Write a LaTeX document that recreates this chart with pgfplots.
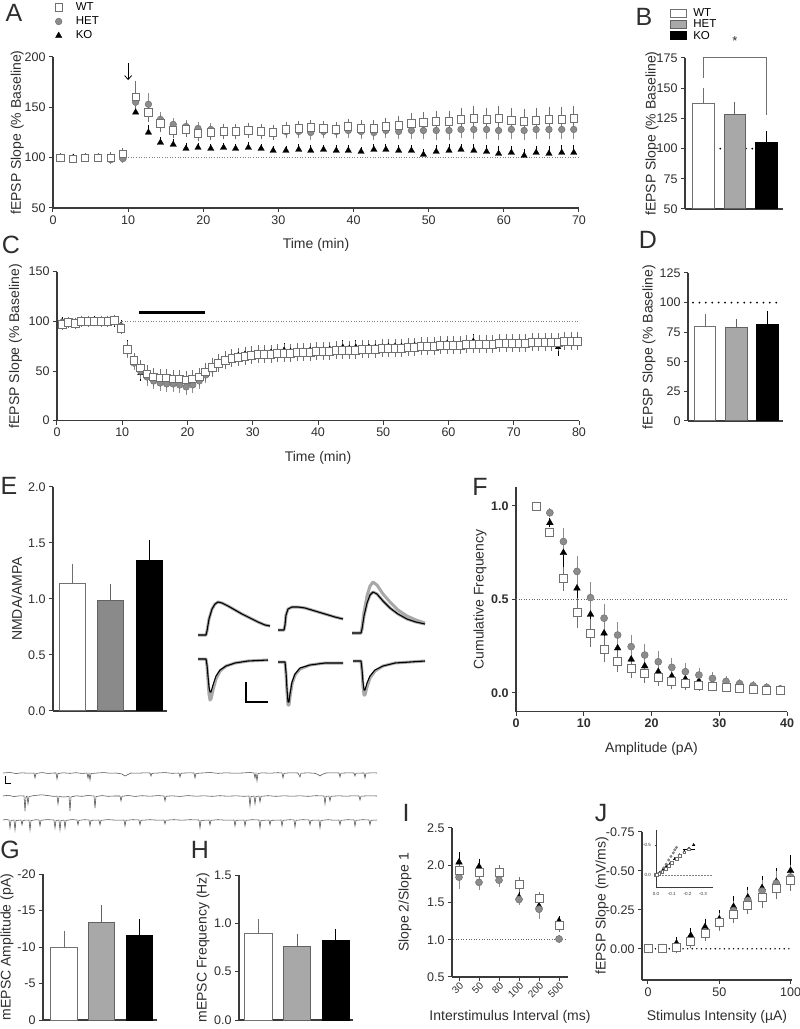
\documentclass[border=0pt]{standalone}
\usepackage{fontspec}
\setmainfont{Liberation Sans}
\usepackage{pgfplots}
\usepackage{pgfplotstable}
\pgfplotsset{compat=1.18}
\usetikzlibrary{arrows.meta}

\definecolor{axc}{HTML}{3A3A3A}
\definecolor{txt}{HTML}{2E2E2E}
\definecolor{wtc}{HTML}{707070}
\definecolor{hetc}{HTML}{8C8C8C}
\definecolor{hetfill}{HTML}{A8A8A8}
\definecolor{hetfillE}{HTML}{8A8A8A}
\definecolor{trgray}{HTML}{A8A8A8}

\newcommand{\tkf}{\fontsize{12.5}{14}\selectfont}
\newcommand{\lbf}{\fontsize{14}{16}\selectfont}
\newcommand{\lgf}{\fontsize{11.5}{12.5}\selectfont}
\newcommand{\ltf}{\fontsize{25}{27}\selectfont}

% A: LTP time course (time, mean, sem per genotype)
\pgfplotstableread{
t wt wte het hete ko koe
1.0 100 2 100 1 100 1
2.7 99 2 99 1 100 1
4.3 100 2 100 1 100 1
6.0 100 2 100 1 100 1
7.7 100 3 98 2 100 1
9.3 104 3 99 2 100 1
11.0 160 13 155 8 145 10
12.7 145 7 153 8 125 5
14.3 134 6 138 5 115 3
16.0 127 5 133 4 113 3
17.7 128 5 131 4 109 3
19.3 124 5 129 4 110 2
21.0 125 5 128 4 109 2
22.7 126 5 127 4 110 2
24.3 126 5 127 4 109 2
26.0 127 5 127 4 110 3
27.7 126 5 126 4 109 2
29.3 125 5 125 4 107 2
31.0 128 5 126 4 107 2
32.7 129 5 126 4 108 3
34.3 130 5 125 5 107 3
36.0 129 5 126 4 108 2
37.7 128 5 126 4 107 3
39.3 131 5 127 5 107 3
41.0 129 6 126 5 106 2
42.7 129 6 125 5 108 3
44.3 131 6 127 5 108 3
46.0 132 7 126 5 107 3
47.7 134 8 127 6 107 3
49.3 135 8 127 6 103 3
51.0 136 8 127 7 106 4
52.7 136 8 127 7 107 4
54.3 138 9 128 6 108 3
56.0 139 10 128 7 107 4
57.7 138 9 128 7 106 4
59.3 139 10 127 7 104 5
61.0 137 10 128 7 105 4
62.7 136 10 127 7 102 4
64.3 137 10 128 7 105 4
66.0 138 10 128 7 104 5
67.7 138 10 128 7 105 5
69.3 139 10 128 7 105 5
}\tabA

% C: LTD time course
\pgfplotstableread{
t wt wte het hete ko koe
0.8 97 3 99 2 100 2
1.8 99 3 98 2 99 2
2.8 98 3 99 2 99 2
3.8 100 3 101 2 100 2
4.8 100 3 100 2 100 2
5.8 100 2 100 2 101 2
6.8 100 3 99 2 100 2
7.8 100 3 101 2 100 2
8.8 101 3 100 2 99 2
9.8 93 3 95 3 96 3
10.8 72 5 71 5 73 5
11.8 61 4 58 4 59 4
12.8 53 5 50 5 48 5
13.8 47 6 44 6 44 5
14.8 44 6 40 5 42 5
15.8 43 6 38 5 41 5
16.8 43 6 37 5 42 5
17.8 42 6 37 5 41 5
18.8 42 6 36 5 40 5
19.8 41 6 34 5 40 5
20.8 42 6 36 5 40 5
21.8 44 6 40 5 41 5
22.8 49 6 46 5 46 5
23.8 54 6 52 5 53 5
24.8 58 6 57 5 59 5
25.8 61 6 60 5 62 4
26.8 63 6 63 5 64 4
27.8 64 6 64 5 66 4
28.8 65 6 65 5 67 4
29.8 66 6 66 5 67 4
30.8 67 6 67 5 68 4
31.8 67 6 67 5 68 4
32.8 67 6 67 5 69 4
33.8 68 6 67 5 69 4
34.8 68 6 68 5 71 4
35.8 68 6 68 5 70 4
36.8 69 6 68 5 70 4
37.8 69 6 69 5 70 4
38.8 69 6 69 5 71 4
39.8 70 6 69 5 71 4
40.8 70 6 70 5 71 4
41.8 70 6 70 5 72 4
42.8 71 6 70 5 72 4
43.8 71 6 71 5 74 4
44.8 71 6 71 5 73 4
45.8 71 6 71 5 74 4
46.8 72 6 71 5 73 4
47.8 72 6 72 5 74 4
48.8 72 6 72 5 74 4
49.8 73 6 72 5 74 4
50.8 73 6 72 5 75 4
51.8 73 6 73 5 75 4
52.8 73 6 73 5 75 4
53.8 74 6 73 5 75 4
54.8 74 6 73 5 76 4
55.8 75 6 74 5 76 4
56.8 75 6 74 5 76 4
57.8 75 6 74 5 76 4
58.8 76 6 75 5 77 4
59.8 76 6 75 5 78 4
60.8 76 6 75 5 77 4
61.8 76 6 75 5 77 4
62.8 77 6 76 5 78 4
63.8 77 6 76 5 80 4
64.8 77 6 76 5 78 4
65.8 77 6 76 5 78 4
66.8 77 6 77 5 78 4
67.8 78 6 77 5 79 4
68.8 78 6 77 5 79 4
69.8 78 6 77 5 79 4
70.8 78 6 78 5 79 4
71.8 78 6 78 5 79 4
72.8 79 6 78 5 80 4
73.8 79 6 78 5 80 4
74.8 79 6 78 5 80 4
75.8 79 6 78 5 80 4
76.8 79 6 79 5 74 6
77.8 80 6 79 5 80 4
78.8 80 6 79 5 81 4
79.8 80 6 79 5 81 4
}\tabC

% F: cumulative amplitude distribution
\pgfplotstableread{
a wt wte het hete ko koe
3 1.00 0 nan nan nan nan
5 0.86 0.01 0.964 0.01 0.91 0.01
7 0.61 0.05 0.81 0.055 0.75 0.06
9 0.43 0.065 0.65 0.07 0.56 0.07
11 0.32 0.06 0.51 0.07 0.42 0.07
13 0.235 0.055 0.40 0.06 0.32 0.055
15 0.17 0.045 0.31 0.055 0.24 0.05
17 0.133 0.04 0.248 0.048 0.18 0.04
19 0.105 0.035 0.203 0.045 0.144 0.035
21 0.085 0.03 0.167 0.04 0.114 0.03
23 0.06 0.025 0.137 0.035 0.09 0.025
25 0.052 0.02 0.114 0.03 0.075 0.02
27 0.043 0.015 0.096 0.025 0.064 0.018
29 0.036 0.012 0.078 0.02 0.052 0.015
31 0.03 0.01 0.062 0.015 0.044 0.012
33 0.025 0.008 0.05 0.012 0.036 0.01
35 0.02 0.006 0.039 0.01 0.03 0.008
37 0.016 0.005 0.03 0.008 0.024 0.006
39 0.012 0.004 0.022 0.006 0.018 0.005
}\tabF

% I: paired-pulse ratio (x = category index)
\pgfplotstableread{
x wt wte het hete ko koe
0 1.93 0.07 1.84 0.12 2.04 0.10
1 1.90 0.08 1.77 0.06 1.98 0.07
2 1.91 0.05 1.80 0.06 1.87 0.05
3 1.74 0.06 1.54 0.03 1.57 0.04
4 1.56 0.04 1.41 0.09 1.45 0.05
5 1.19 0.05 1.01 0.02 1.25 0.03
}\tabI

% J: input-output
\pgfplotstableread{
x wt wte het hete ko koe
0 0.00 0.01 0.00 0.01 0.00 0.01
10 0.00 0.01 0.00 0.01 -0.005 0.01
20 -0.01 0.02 -0.01 0.02 -0.035 0.02
30 -0.05 0.03 -0.05 0.03 -0.085 0.03
40 -0.10 0.03 -0.11 0.03 -0.14 0.035
50 -0.17 0.03 -0.17 0.04 -0.19 0.04
60 -0.22 0.04 -0.245 0.04 -0.27 0.05
70 -0.28 0.04 -0.31 0.05 -0.33 0.05
80 -0.33 0.05 -0.37 0.05 -0.39 0.06
90 -0.385 0.05 -0.42 0.06 -0.43 0.07
100 -0.44 0.05 -0.46 0.06 -0.50 0.08
}\tabJ

\pgfplotsset{
  gp/.style={
    scale only axis, anchor=south west,
    axis x line*=bottom, axis y line*=left,
    axis line style={line width=1.1pt, color=axc},
    every tick/.style={line width=1pt, color=axc},
    tick align=outside, major tick length=4pt,
    tick label style={font=\tkf, color=txt},
    label style={font=\lbf, color=txt},
    /pgf/number format/assume math mode=true,
  },
  mwt/.style={only marks, mark=square*, mark size=3.6pt,
    mark options={fill=white, draw=wtc, line width=0.9pt},
    error bars/y dir=both, error bars/y explicit,
    error bars/error bar style={wtc, line width=0.8pt},
    error bars/error mark options={wtc, line width=0.8pt, mark size=2.8pt}},
  mhet/.style={only marks, mark=*, mark size=3.3pt,
    mark options={fill=hetc, draw=hetc!80!black, line width=0.5pt},
    error bars/y dir=both, error bars/y explicit,
    error bars/error bar style={hetc, line width=0.8pt},
    error bars/error mark options={hetc, line width=0.8pt, mark size=2.8pt}},
  mko/.style={only marks, mark=triangle*, mark size=3.7pt,
    mark options={fill=black, draw=black, line width=0.3pt},
    error bars/y dir=both, error bars/y explicit,
    error bars/error bar style={black, line width=0.8pt},
    error bars/error mark options={black, line width=0.8pt, mark size=2.8pt}},
  bwt/.style={ybar, bar shift=0pt, fill=white, draw=wtc, line width=1pt,
    error bars/y dir=plus, error bars/y explicit,
    error bars/error bar style={wtc, line width=1pt},
    error bars/error mark options={wtc, line width=1pt, mark size=4pt}},
  bhet/.style={ybar, bar shift=0pt, fill=hetfill, draw=hetc!70!black, line width=1pt,
    error bars/y dir=plus, error bars/y explicit,
    error bars/error bar style={hetc!70!black, line width=1pt},
    error bars/error mark options={hetc!70!black, line width=1pt, mark size=4pt}},
  bko/.style={ybar, bar shift=0pt, fill=black, draw=black, line width=1pt,
    error bars/y dir=plus, error bars/y explicit,
    error bars/error bar style={black, line width=1pt},
    error bars/error mark options={black, line width=1pt, mark size=4pt}},
  finedot/.style={color=gray, line width=1pt, dash pattern=on 1pt off 1.6pt},
  bigdot/.style={color=black, line width=2pt, line cap=round, dash pattern=on 0pt off 6.4pt},
}

\begin{document}
\begin{tikzpicture}
\useasboundingbox (0pt,0pt) rectangle (800pt,1029pt);

% ---------- A ----------
\begin{axis}[gp, at={(53pt,821pt)}, width=526pt, height=151pt,
  xmin=0, xmax=70, ymin=50, ymax=200,
  xtick={0,10,...,70}, ytick={50,100,150,200},
  xlabel={Time (min)}, ylabel={fEPSP Slope (\% Baseline)},
  xlabel style={at={(axis description cs:0.5,-0.245)}, anchor=center},
  ylabel style={at={(axis description cs:-0.068,0.5)}, anchor=center},
  clip=false, reverse legend,
  legend image code/.code={\draw[#1] plot coordinates {(5.5pt,0pt)}; \path[draw=none, fill=none] (0pt,-4pt) rectangle (22pt,4pt);},
  legend style={draw=none, fill=none, inner sep=0pt, at={(axis description cs:0,1.365)}, anchor=north west,
    font=\lgf, row sep=3.5pt, nodes={inner sep=0.6pt}},
  legend cell align=left]
\addplot[finedot, forget plot] coordinates {(10,100) (70,100)};
\addplot[black, line width=0.8pt, -{Straight Barb[length=4pt, width=7pt]}, forget plot] coordinates {(10,194) (10,177)};
\addplot[mko, error bars/y dir=plus] table[x=t, y=ko, y error=koe] {\tabA};
\addlegendentry{KO}
\addplot[mhet] table[x=t, y=het, y error=hete] {\tabA};
\addlegendentry{HET}
\addplot[mwt] table[x=t, y=wt, y error=wte] {\tabA};
\addlegendentry{WT}
\end{axis}

% ---------- B ----------
\begin{axis}[gp, at={(685pt,820pt)}, width=98pt, height=151pt,
  xmin=0.413, xmax=3.524, ymin=50, ymax=175,
  xtick=\empty, ytick={50,75,...,175},
  ylabel={fEPSP Slope (\% Baseline)},
  ylabel style={at={(axis description cs:-0.337,0.5)}, anchor=center},
  legend image code/.code={\draw[#1] (0pt,-4pt) rectangle (16pt,4pt); \path[draw=none, fill=none] (0pt,-4pt) rectangle (22pt,4pt);},
  legend style={draw=none, fill=none, inner sep=0pt, at={(axis description cs:-0.153,1.33)}, anchor=north west,
    font=\lgf, row sep=0.5pt, nodes={inner sep=0.6pt}},
  legend cell align=left]
\addplot[bigdot, forget plot] coordinates {(1.33,100) (2.67,100)};
\addplot[bwt, bar width=0.667] coordinates {(1,137) +- (0,10)};
\addlegendentry{WT}
\addplot[bhet, bar width=0.667] coordinates {(2,128) +- (0,7)};
\addlegendentry{HET}
\addplot[bko, bar width=0.667] coordinates {(3,105) +- (0,6)};
\addlegendentry{KO}
\end{axis}
\begin{axis}[scale only axis, anchor=south west, at={(685pt,820pt)}, width=98pt, height=151pt,
  xmin=0.413, xmax=3.524, ymin=50, ymax=175, hide axis, clip=false]
\addplot[wtc, line width=1pt] coordinates {(1,158.4) (1,175) (3,175) (3,127.8)};
\node[font=\fontsize{13}{13}\selectfont, text=txt] at (axis cs:2,189) {*};
\end{axis}

% ---------- C ----------
\begin{axis}[gp, at={(57pt,608.3pt)}, width=522pt, height=149pt,
  xmin=0, xmax=80, ymin=0, ymax=150,
  xtick={0,10,...,80}, ytick={0,50,100,150},
  xlabel={Time (min)}, ylabel={fEPSP Slope (\% Baseline)},
  xlabel style={at={(axis description cs:0.5,-0.25)}, anchor=center},
  ylabel style={at={(axis description cs:-0.0795,0.5)}, anchor=center},
  clip=false]
\addplot[finedot] coordinates {(10,100) (80,100)};
\addplot[black, line width=2.6pt] coordinates {(12.6,109) (22.7,109)};
\addplot[mko, mark size=3.3pt] table[x=t, y=ko, y error=koe] {\tabC};
\addplot[mhet, mark size=3.3pt] table[x=t, y=het, y error=hete] {\tabC};
\addplot[mwt, mark size=3.9pt] table[x=t, y=wt, y error=wte] {\tabC};
\end{axis}

% ---------- D ----------
\begin{axis}[gp, at={(688pt,608pt)}, width=95pt, height=148pt,
  xmin=0.457, xmax=3.49, ymin=0, ymax=125,
  xtick=\empty, ytick={0,25,...,125},
  ylabel={fEPSP Slope (\% Baseline)},
  ylabel style={at={(axis description cs:-0.41,0.5)}, anchor=center}]
\addplot[bigdot] coordinates {(0.617,100) (3.46,100)};
\addplot[bwt, bar width=0.7] coordinates {(1,80) +- (0,7)};
\addplot[bhet, bar width=0.7] coordinates {(2,79) +- (0,3.5)};
\addplot[bko, bar width=0.7] coordinates {(3,81.5) +- (0,8)};
\end{axis}

% ---------- E ----------
\begin{axis}[gp, at={(53pt,318pt)}, width=114pt, height=224pt,
  xmin=0.49, xmax=3.47, ymin=0, ymax=2,
  xtick=\empty, ytick={0,0.5,1,1.5,2},
  yticklabel style={/pgf/number format/.cd, fixed, fixed zerofill, precision=1},
  ylabel={NMDA/AMPA},
  ylabel style={at={(axis description cs:-0.316,0.5)}, anchor=center}]
\addplot[bwt, bar width=0.68] coordinates {(1,1.14) +- (0,0.14)};
\addplot[bhet, fill=hetfillE, bar width=0.68] coordinates {(2,0.99) +- (0,0.11)};
\addplot[bko, bar width=0.68] coordinates {(3,1.34) +- (0,0.15)};
\end{axis}

% ---------- F ----------
\begin{axis}[gp, at={(516pt,317.3pt)}, width=271pt, height=224.4pt,
  xmin=0, xmax=40, ymin=-0.1, ymax=1.1,
  xtick={0,10,...,40}, ytick={0,0.5,1},
  tick label style={font=\bfseries\tkf},
  yticklabel style={/pgf/number format/.cd, fixed, fixed zerofill, precision=1},
  xlabel={Amplitude (pA)}, ylabel={Cumulative Frequency},
  xlabel style={at={(axis description cs:0.5,-0.166)}, anchor=center},
  ylabel style={at={(axis description cs:-0.133,0.5)}, anchor=center},
  clip=false]
\addplot[finedot, color=gray!80!black] coordinates {(0,0.5) (40,0.5)};
\addplot[mko, mark size=3.9pt] table[x=a, y=ko, y error=koe] {\tabF};
\addplot[mhet, mark size=3.5pt] table[x=a, y=het, y error=hete] {\tabF};
\addplot[mwt, mark size=4pt] table[x=a, y=wt, y error=wte] {\tabF};
\end{axis}

% ---------- G ----------
\begin{axis}[gp, at={(43pt,9pt)}, width=114pt, height=146pt,
  y dir=reverse, xmin=0.444, xmax=3.46, ymin=-20, ymax=0,
  xtick=\empty, ytick={-20,-15,-10,-5,0},
  ylabel={mEPSC Amplitude (pA)},
  ylabel style={at={(axis description cs:-0.316,0.5)}, anchor=center}]
\addplot[bwt, error bars/y dir=minus, bar width=0.69] coordinates {(1,-10.0) +- (0,1.6)};
\addplot[bhet, error bars/y dir=minus, bar width=0.69] coordinates {(2,-13.4) +- (0,1.8)};
\addplot[bko, error bars/y dir=minus, bar width=0.69] coordinates {(3,-11.6) +- (0,1.7)};
\end{axis}

% ---------- H ----------
\begin{axis}[gp, at={(239pt,9pt)}, width=114pt, height=145pt,
  xmin=0.497, xmax=3.44, ymin=0, ymax=1.5,
  xtick=\empty, ytick={0,0.5,1,1.5},
  yticklabel style={/pgf/number format/.cd, fixed, fixed zerofill, precision=1},
  ylabel={mEPSC Frequency (Hz)},
  ylabel style={at={(axis description cs:-0.316,0.5)}, anchor=center}]
\addplot[bwt, bar width=0.70] coordinates {(1,0.90) +- (0,0.10)};
\addplot[bhet, bar width=0.70] coordinates {(2,0.76) +- (0,0.09)};
\addplot[bko, bar width=0.70] coordinates {(3,0.82) +- (0,0.08)};
\end{axis}

% ---------- I ----------
\begin{axis}[gp, at={(452pt,52pt)}, width=116pt, height=149pt,
  xmin=-0.35, xmax=5.45, ymin=0.5, ymax=2.5,
  xtick={0,...,5}, xticklabels={30,50,80,100,200,500},
  x tick label style={rotate=45, anchor=north east, inner sep=0.3pt, font=\fontsize{10}{11}\selectfont},
  ytick={0.5,1,1.5,2,2.5},
  yticklabel style={/pgf/number format/.cd, fixed, fixed zerofill, precision=1},
  xlabel={Interstimulus Interval (ms)}, ylabel={Slope 2/Slope 1},
  xlabel style={at={(axis description cs:0.5,-0.268)}, anchor=center},
  ylabel style={at={(axis description cs:-0.405,0.5)}, anchor=center},
  clip=false]
\addplot[finedot, color=gray!80!black] coordinates {(-0.3,1) (5.4,1)};
\addplot[mko, mark size=3.9pt] table[x=x, y=ko, y error=koe] {\tabI};
\addplot[mhet, mark size=3.5pt] table[x=x, y=het, y error=hete] {\tabI};
\addplot[mwt, mark size=4pt] table[x=x, y=wt, y error=wte] {\tabI};
\end{axis}

% ---------- J ----------
\begin{axis}[gp, at={(642pt,49pt)}, width=150pt, height=148.3pt,
  y dir=reverse, xmin=-4.2, xmax=101, ymin=-0.75, ymax=0.2,
  xtick={0,50,100}, ytick={-0.75,-0.5,-0.25,0},
  yticklabel style={/pgf/number format/.cd, fixed, fixed zerofill, precision=2},
  xlabel={Stimulus Intensity (µA)}, ylabel={fEPSP Slope (mV/ms)},
  xlabel style={at={(axis description cs:0.5,-0.25)}, anchor=center},
  ylabel style={at={(axis description cs:-0.267,0.5)}, anchor=center},
  clip=false]
\addplot[color=black, line width=1.6pt, line cap=round, dash pattern=on 0pt off 4.6pt] coordinates {(2,0) (100,0)};
\addplot[mko, mark size=3.9pt] table[x=x, y=ko, y error=koe] {\tabJ};
\addplot[mhet, mark size=3.5pt] table[x=x, y=het, y error=hete] {\tabJ};
\addplot[mwt, mark size=4pt] table[x=x, y=wt, y error=wte] {\tabJ};
\end{axis}

% J inset
\begin{axis}[gp, at={(656pt,142pt)}, width=57pt, height=57pt,
  x dir=reverse, y dir=reverse, xmin=-0.363, xmax=0, ymin=-0.75, ymax=0.2,
  axis line style={line width=0.6pt, color=axc},
  every tick/.style={line width=0.5pt, color=axc}, major tick length=1.5pt,
  tick label style={font=\fontsize{4.5}{5}\selectfont},
  xtick={0,-0.1,-0.2,-0.3}, ytick={-0.5,0},
  xticklabel style={/pgf/number format/.cd, fixed, fixed zerofill, precision=1},
  yticklabel style={/pgf/number format/.cd, fixed, fixed zerofill, precision=1},
  clip=false]
\addplot[gray, line width=0.5pt, dash pattern=on 2pt off 1pt] coordinates {(0,0) (-0.36,0)};
\addplot[only marks, mark=triangle*, mark size=1.5pt, mark options={fill=black}] coordinates {
(0,0) (-0.01,-0.01) (-0.025,-0.04) (-0.045,-0.09) (-0.065,-0.14) (-0.09,-0.19) (-0.12,-0.27) (-0.15,-0.33) (-0.18,-0.39) (-0.21,-0.44) (-0.24,-0.50)};
\addplot[only marks, mark=*, mark size=1.3pt, mark options={fill=hetc, draw=hetc!80!black, line width=0.3pt}] coordinates {
(0,0) (-0.005,-0.005) (-0.02,-0.02) (-0.035,-0.06) (-0.05,-0.12) (-0.065,-0.18) (-0.08,-0.25) (-0.095,-0.31) (-0.11,-0.37) (-0.12,-0.42) (-0.13,-0.46)};
\addplot[only marks, mark=square*, mark size=1.4pt, mark options={fill=white, draw=wtc, line width=0.4pt},
  error bars/x dir=both, error bars/x explicit, error bars/error bar style={black, line width=0.4pt},
  error bars/error mark options={black, line width=0.4pt, mark size=1pt}] coordinates {
(0,0) (-0.005,-0.005) (-0.02,-0.02) (-0.04,-0.06) (-0.06,-0.10) (-0.08,-0.16) (-0.10,-0.21) (-0.13,-0.27) (-0.15,-0.32) (-0.18,-0.38) (-0.21,-0.43) +- (0.03,0)};
\end{axis}

% ---------- overlay: example traces, raw mEPSC traces, panel letters ----------
\begin{axis}[scale only axis, anchor=south west, at={(0pt,0pt)}, width=800pt, height=1029pt,
  xmin=0, xmax=800, ymin=0, ymax=1029, y dir=reverse, hide axis, clip=false]
% NMDA (upward) traces
\addplot[trgray, line width=3pt, line join=round] coordinates {(198,635) (206,635) (207,631) (209,619) (212,609) (215,604) (218,602) (222,603) (228,606) (235,610) (242,614) (250,618) (258,622) (265,625) (270,626)};
\addplot[black, line width=1.1pt, line join=round] coordinates {(198,635) (206,635) (207,631) (209,619) (212,609) (215,604) (218,602) (222,603) (228,606) (235,610) (242,614) (250,618) (258,622) (265,625) (270,626)};
\addplot[trgray, line width=3pt, line join=round] coordinates {(278,630) (284,630) (285,625) (286,615) (288,609) (292,607) (298,607) (305,608) (315,611) (325,614) (335,617) (343,619)};
\addplot[black, line width=1.1pt, line join=round] coordinates {(278,630) (284,630) (285,625) (286,615) (288,609) (292,607) (298,607) (305,608) (315,611) (325,614) (335,617) (343,619)};
\addplot[trgray, line width=3pt, line join=round] coordinates {(352,633) (361,633) (362,628) (364,612) (367,596) (370,586) (373,582) (377,585) (383,594) (390,602) (398,610) (407,616) (416,620) (425,623)};
\addplot[trgray, line width=3pt, line join=round] coordinates {(352,633) (361,633) (362,629) (364,616) (367,603) (370,595) (373,592) (377,594) (383,601) (390,608) (398,614) (407,619) (416,622) (425,624)};
\addplot[black, line width=1.1pt, line join=round] coordinates {(352,633) (361,633) (362,629) (364,616) (367,603) (370,595) (373,592) (377,594) (383,601) (390,608) (398,614) (407,619) (416,622) (425,624)};
% AMPA (downward) traces
\addplot[trgray, line width=3pt, line join=round] coordinates {(198,659) (206,659) (207,666) (208,680) (209,694) (210,700) (211,699) (213,690) (216,679) (220,671) (226,666) (235,663) (248,661) (268,660)};
\addplot[black, line width=1.1pt, line join=round] coordinates {(198,659) (206,659) (207,665) (208,676) (209,687) (210,692) (211,692) (213,685) (216,676) (220,670) (226,666) (235,663) (248,661) (268,660)};
\addplot[trgray, line width=3pt, line join=round] coordinates {(278,662) (285,662) (286,674) (287,692) (288,705) (289,705) (290,697) (292,684) (295,675) (300,669) (310,665) (325,663) (343,663)};
\addplot[black, line width=1.1pt, line join=round] coordinates {(278,662) (285,662) (286,672) (287,689) (288,702) (289,702) (290,694) (292,682) (295,674) (300,668) (310,665) (325,663) (343,663)};
\addplot[trgray, line width=3pt, line join=round] coordinates {(353,661) (361,661) (362,671) (363,686) (364,695) (365,695) (367,687) (370,678) (375,671) (383,666) (395,663) (410,662) (425,661)};
\addplot[black, line width=1.1pt, line join=round] coordinates {(353,661) (361,661) (362,669) (363,682) (364,690) (365,690) (367,683) (370,676) (375,670) (383,666) (395,663) (410,662) (425,661)};
% scale bar
\addplot[black, line width=1.4pt] coordinates {(246,682) (246,702) (268,702)};
% raw mEPSC traces
\addplot[black!70, line width=0.55pt] coordinates {
(3,773) (10,772.5) (16,773.5) (22,772.8) (28,773.2) (34,773) (35,778) (36,773.5) (42,772.6) (48,773.4) (54,773) (56,773) (57,779) (58,773.5) (63,772.8) (70,773.3) (76,772.7) (82,773.4) (87,773) (88,778) (89,773.5) (90,780) (91,773.5) (97,773) (104,772.6) (110,773.2) (116,773) (122,774) (125,776) (128,774.5) (131,773) (138,773.2) (145,772.8) (150,773) (151,776) (152,773.3) (158,773) (165,772.6) (172,773.3) (179,773) (180,777) (181,773.3) (188,772.8) (194,773) (195,778) (196,773.4) (202,773) (210,772.5) (218,773.3) (226,772.8) (234,773.2) (242,773) (250,772.5) (254,773) (255,778) (256,773.5) (257,781) (258,773.5) (262,772.8) (270,773.2) (278,772.7) (282,773) (283,778) (284,773.3) (290,772.8) (298,773) (300,777) (301,773.2) (308,772.8) (315,773.3) (318,774.5) (320,776) (322,774.5) (326,773) (333,772.8) (339,773) (340,777) (341,773.2) (348,772.8) (354,773) (355,776) (356,773.2) (362,773) (364,773) (365,778) (366,773.2) (372,772.8) (377,773)};
\addplot[black!70, line width=0.55pt] coordinates {
(3,796) (8,795.3) (14,796.5) (20,795.8) (24,796) (25,811) (26,797) (27,796) (28,804) (29,796.5) (35,795.4) (42,794.8) (48,795.6) (54,796.4) (57,796) (58,804) (59,796.5) (64,797) (69,796.5) (70,811) (71,797) (76,795.8) (82,796.3) (88,795.5) (94,796) (95,808) (96,796.5) (102,795.6) (108,796.3) (114,796) (120,796) (121,801) (122,796.3) (128,795.5) (135,796.4) (142,795.7) (150,796.2) (158,795.6) (164,796) (165,801) (166,796.3) (172,795.8) (180,796.4) (188,795.6) (196,796.2) (204,795.8) (212,796.3) (220,795.7) (228,796.2) (236,795.8) (244,796.3) (249,796) (250,806) (251,796.5) (254,796) (255,804) (256,796.5) (259,796) (260,802) (261,796.3) (268,795.7) (276,796.3) (284,795.8) (292,796.2) (300,795.8) (308,796.3) (316,795.7) (324,796) (325,804) (326,796.3) (329,796) (330,801) (331,796.3) (338,795.8) (346,796.2) (353,795.8) (359,796) (360,800) (361,796.2) (368,795.8) (377,796)};
\addplot[black!70, line width=0.55pt] coordinates {
(3,820) (6,819.5) (9,820) (10,828) (11,820.5) (14,820) (15,830) (16,820.5) (21,820) (22,825) (23,820.3) (29,820) (30,830) (31,820.5) (36,819.7) (39,820) (40,826) (41,820.3) (47,819.6) (54,820) (55,828) (56,820.5) (59,820) (60,830) (61,820.5) (64,820) (65,828) (66,820.4) (72,819.6) (77,820) (78,825) (79,820.3) (85,819.7) (89,820) (90,826) (91,820.3) (99,820) (100,825) (101,820.3) (108,819.6) (116,820.2) (124,820) (125,826) (126,820.3) (133,819.7) (139,820) (140,825) (141,820.3) (150,819.7) (158,820.2) (164,820) (165,824) (166,820.2) (174,819.7) (182,820.2) (190,819.7) (199,820) (200,828) (201,820.4) (209,820) (210,825) (211,820.3) (218,819.7) (226,820.2) (234,820) (235,826) (236,820.3) (244,820) (245,826) (246,820.3) (252,819.7) (259,820) (260,828) (261,820.4) (269,820) (270,825) (271,820.3) (281,820) (282,826) (283,820.3) (290,819.7) (294,820) (295,827) (296,820.3) (303,819.7) (309,820) (310,825) (311,820.3) (319,820) (320,828) (321,820.4) (328,819.7) (334,820.2) (339,820) (340,825) (341,820.3) (348,819.7) (354,820) (355,826) (356,820.3) (363,819.7) (369,820) (370,825) (371,820.3) (377,820)};
\addplot[black, line width=0.7pt] coordinates {(5,776) (5,783) (11,783)};
% panel letters
\node[font=\ltf, text=txt] at (axis cs:14,13) {A};
\node[font=\ltf, text=txt] at (axis cs:644,17) {B};
\node[font=\ltf, text=txt] at (axis cs:11,245) {C};
\node[font=\ltf, text=txt] at (axis cs:648,240) {D};
\node[font=\ltf, text=txt] at (axis cs:9,486) {E};
\node[font=\ltf, text=txt] at (axis cs:480,487) {F};
\node[font=\ltf, text=txt] at (axis cs:10,850) {G};
\node[font=\ltf, text=txt] at (axis cs:200,850) {H};
\node[font=\ltf, text=txt] at (axis cs:406,813) {I};
\node[font=\ltf, text=txt] at (axis cs:601,813) {J};
\end{axis}
\end{tikzpicture}
\end{document}
